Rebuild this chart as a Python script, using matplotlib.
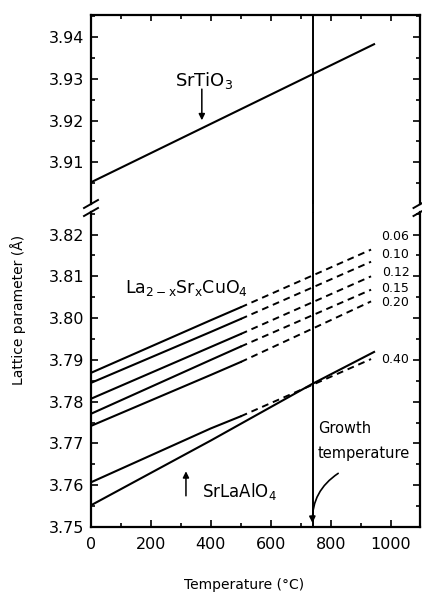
"""Lattice parameter vs temperature (broken y axis)"""

import matplotlib
matplotlib.use('Agg')
import matplotlib.pyplot as plt
from matplotlib.ticker import MultipleLocator

plt.rcParams['font.family'] = ['DejaVu Sans']
plt.rcParams['mathtext.default'] = 'regular'

# values: temperature (°C), lattice parameter (Å)
srtio3_t = [0, 945]
srtio3_a = [3.9052, 3.9383]

cu_x = ['0.06', '0.10', '0.12', '0.15', '0.20', '0.40']
cu_t = [0, 400, 500, 935]          # solid up to 500, dashed after
cu_a = [
    [3.7869, 3.7995, 3.8026, 3.8164],
    [3.7845, 3.7967, 3.7998, 3.8135],
    [3.7807, 3.7931, 3.7962, 3.8100],
    [3.7771, 3.7900, 3.7932, 3.8068],
    [3.7742, 3.7864, 3.7895, 3.8040],
    [3.7607, 3.7736, 3.7765, 3.7902],
]
cu_label_y = [3.8195, 3.8152, 3.8109, 3.8071, 3.8038, 3.7901]

srlaalo4_t = [0, 400, 740, 945]
srlaalo4_a = [3.7552, 3.7707, 3.7843, 3.7919]

growth_t = 740

W, H = 422, 595
fig = plt.figure(figsize=(W / 100, H / 100), dpi=100)
left, right = 91 / W, 420.5 / W
ax_top = fig.add_axes([left, 1 - 204 / H, right - left, (204 - 15) / H])
ax_bot = fig.add_axes([left, 1 - 527 / H, right - left, (527 - 212) / H])

ax_top.set_ylim(3.900, 3.9453)
ax_bot.set_ylim(3.75, 3.8254)
for ax in (ax_top, ax_bot):
    ax.set_xlim(0, 1100)
    for s in ax.spines.values():
        s.set_linewidth(1.6)
    ax.yaxis.set_major_locator(MultipleLocator(0.01))
    ax.yaxis.set_minor_locator(MultipleLocator(0.005))
    ax.xaxis.set_major_locator(MultipleLocator(200))
    ax.xaxis.set_minor_locator(MultipleLocator(100))
    ax.tick_params(which='both', direction='in', right=True, width=1.2,
                   labelsize=11.5)
    ax.tick_params(which='major', length=5, pad=5)
    ax.tick_params(which='minor', length=3)
    ax.yaxis.set_major_formatter(lambda v, p: f'{v:.2f}')
    ax.axvline(growth_t, color='black', lw=1.4)

ax_top.spines['bottom'].set_visible(False)
ax_bot.spines['top'].set_visible(False)
ax_top.tick_params(which='both', bottom=False, labelbottom=False, top=True)
ax_top.tick_params(axis='x', which='major', length=4)
ax_top.set_yticks([3.91, 3.92, 3.93, 3.94])
ax_top.set_yticks([3.905, 3.915, 3.925, 3.935, 3.945], minor=True)
ax_bot.tick_params(axis='x', which='major', pad=7)
ax_bot.plot([growth_t, growth_t], [3.8254, 3.828], color='black', lw=1.4,
            clip_on=False)

# break marks
for ax, y0, dy in ((ax_top, 0, 4 / 189), (ax_bot, 1, 4 / 315)):
    for x0 in (0, 1):
        ax.plot([x0 - 7 / 330, x0 + 7 / 330], [y0 - dy, y0 + dy],
                transform=ax.transAxes, color='black', lw=1.4, clip_on=False)

# SrTiO3
ax_top.plot(srtio3_t, srtio3_a, color='black', lw=1.5)
ax_top.text(280, 3.9282, r'SrTiO$_3$', fontsize=13, va='baseline')
ax_top.annotate('', xy=(370, 3.9194), xytext=(370, 3.9282),
                arrowprops=dict(arrowstyle='-|>', color='black', lw=1.1,
                                mutation_scale=9))

# La2-xSrxCuO4
for vals, lab, ly in zip(cu_a, cu_x, cu_label_y):
    ax_bot.plot(cu_t[:3], vals[:3], color='black', lw=1.5)
    ax_bot.plot(cu_t[2:], vals[2:], color='black', lw=1.4, ls=(0, (3.5, 2.5)))
    ax_bot.text(1063, ly, lab, fontsize=9, ha='right', va='center')
ax_bot.text(113, 3.806, r'La$_{2-x}$Sr$_x$CuO$_4$', fontsize=12.5,
            va='baseline')

# SrLaAlO4
ax_bot.plot(srlaalo4_t, srlaalo4_a, color='black', lw=1.5)
ax_bot.text(370, 3.7572, r'SrLaAlO$_4$', fontsize=12, va='baseline')
ax_bot.annotate('', xy=(317, 3.7640), xytext=(317, 3.7568),
                arrowprops=dict(arrowstyle='-|>', color='black', lw=1.1,
                                mutation_scale=9))

# growth temperature
ax_bot.text(757, 3.7725, 'Growth', fontsize=10.5, va='baseline')
ax_bot.text(757, 3.7665, 'temperature', fontsize=10.5, va='baseline')
ax_bot.annotate('', xy=(growth_t, 3.7503), xytext=(833, 3.7632),
                arrowprops=dict(arrowstyle='-|>', color='black', lw=1.2,
                                mutation_scale=9,
                                connectionstyle='arc3,rad=0.3'))

fig.text(244 / W, 1 - 585 / H, 'Temperature (°C)', fontsize=10,
         ha='center', va='center')
fig.text(18 / W, 1 - 310 / H, 'Lattice parameter (Å)', fontsize=10,
         ha='center', va='center', rotation=90)

fig.savefig('out.png', dpi=100)
